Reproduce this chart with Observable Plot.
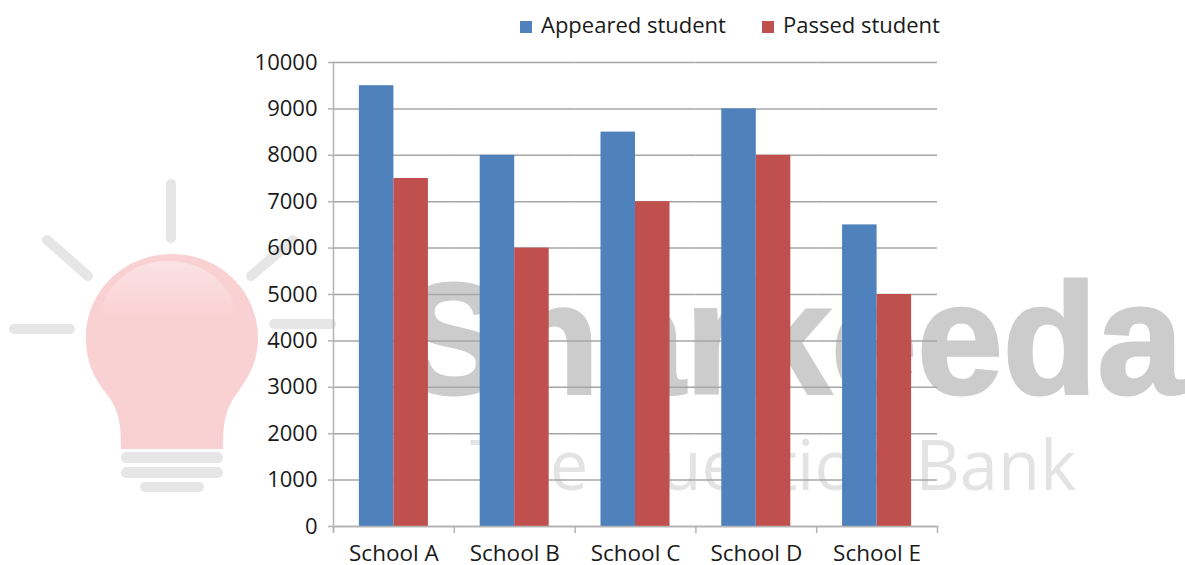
<!DOCTYPE html>
<html>
<head>
<meta charset="utf-8">
<script src="https://cdn.jsdelivr.net/npm/d3@7"></script>
<script src="https://cdn.jsdelivr.net/npm/@observablehq/plot@0.6"></script>
<style>
  html, body { margin: 0; padding: 0; background: #fff; }
  #wrap { position: relative; width: 1185px; height: 565px; overflow: hidden; font-family: "Open Sans", sans-serif; color: #1a1a1a; }
  #mark { position: absolute; left: 0; top: 0; z-index: 0; }
  #chart { position: absolute; left: 0; top: 0; z-index: 1; }
  #legend { position: absolute; left: 0; top: 0; z-index: 2; width: 1185px; height: 50px; }
  .sw { position: absolute; top: 21px; width: 12px; height: 12px; }
  .lb { position: absolute; top: 8px; font-size: 22px; line-height: 32px; white-space: nowrap; }
</style>
</head>
<body>
<div id="wrap">
  <svg id="mark" width="1185" height="565" viewBox="0 0 1185 565">
    <defs>
      <linearGradient id="glow" x1="0" y1="0" x2="0" y2="1">
        <stop offset="0" stop-color="#fbe3e4"/>
        <stop offset="1" stop-color="#fad1d3"/>
      </linearGradient>
    </defs>
    <g stroke="#e6e6e6" stroke-width="10" stroke-linecap="round" fill="none">
      <path d="M171 184V238"/>
      <path d="M47 240L88 276"/>
      <path d="M251 276L293 240"/>
      <path d="M14 329H70"/>
      <path d="M274 324H331"/>
    </g>
    <path fill="#fad1d3" d="M121 449C121 420 118 408 105 392C92 375 86 360 86 338C86 290 125 254 172 254C219 254 258 290 258 338C258 360 250 375 238 392C226 408 223 420 223 449Z"/>
    <path fill="url(#glow)" d="M100 316C104 285 133 261 167 261C205 261 232 285 237 316Z"/>
    <g fill="#e6e6e6">
      <rect x="121" y="452" width="102" height="11" rx="5.5"/>
      <rect x="121" y="467" width="102" height="11" rx="5.5"/>
      <rect x="140" y="482" width="64" height="10" rx="5"/>
    </g>
    <text x="402" y="393" font-family="Liberation Sans" font-weight="700" font-size="158" fill="#cccccc" stroke="#cccccc" stroke-width="3" textLength="781" lengthAdjust="spacingAndGlyphs">Sharkeeda</text>
    <text x="470" y="490" font-family="Open Sans" font-size="70" fill="#e3e3e3" textLength="606" lengthAdjust="spacingAndGlyphs">The Question Bank</text>
  </svg>
  <div id="chart"></div>
  <div id="legend"></div>
</div>
<script>
const schools = ["School A", "School B", "School C", "School D", "School E"];
const seriesNames = ["Appeared student", "Passed student"];
const appeared = [9500, 8000, 8500, 9000, 6500];
const passed = [7500, 6000, 7000, 8000, 5000];
const colors = ["#4f81bd", "#c0504d"];
const yTicks = [0, 1000, 2000, 3000, 4000, 5000, 6000, 7000, 8000, 9000, 10000];
const gray = "#a6a6a6";
const axisGray = "#b3b3b3";
const fontSize = 22.5;

const rows = schools.flatMap((school, i) => [
  {school, series: seriesNames[0], value: appeared[i]},
  {school, series: seriesNames[1], value: passed[i]}
]);

const tickShape = {
  draw(context, l) {
    context.moveTo(0, 0);
    context.lineTo(0, -l);
  }
};

const plot = Plot.plot({
  width: 1185,
  height: 565,
  marginLeft: 333,
  marginRight: 248,
  marginTop: 62,
  marginBottom: 39,
  style: {background: "transparent", fontFamily: "'Open Sans', sans-serif", fontSize: fontSize + "px", color: "#1a1a1a"},
  fx: {domain: schools, padding: 0, round: false, label: null},
  x: {domain: seriesNames, paddingInner: 0, paddingOuter: 0.75, round: false, axis: null},
  y: {domain: [0, 10000], label: null, axis: null},
  color: {domain: seriesNames, range: colors},
  marks: [
    Plot.ruleY(yTicks, {stroke: gray, strokeWidth: 1.5, strokeOpacity: 1}),
    Plot.barY(rows, {fx: "school", x: "series", y: "value", fill: "series"}),
    Plot.vector(schools, {fx: d => d, frameAnchor: "bottom-left", length: 6, rotate: 180, anchor: "start", shape: tickShape, stroke: axisGray, strokeWidth: 1.5}),
    Plot.vector(schools.slice(-1), {fx: d => d, frameAnchor: "bottom-right", length: 6, rotate: 180, anchor: "start", shape: tickShape, stroke: axisGray, strokeWidth: 1.5}),
    Plot.frame({anchor: "left", facet: "super", stroke: axisGray, strokeWidth: 1.5, insetBottom: -5}),
    Plot.frame({anchor: "bottom", facet: "super", stroke: axisGray, strokeWidth: 1.5}),
    Plot.axisY({ticks: yTicks, tickSize: 5, tickPadding: 11, stroke: axisGray, strokeWidth: 1.5, fill: "#1a1a1a", tickFormat: d => String(d), fontSize: 22, label: null}),
    Plot.axisFx({anchor: "bottom", tickSize: 0, tickPadding: 19, fill: "#1a1a1a", fontSize, label: null})
  ]
});
document.getElementById("chart").appendChild(plot);

const legend = document.getElementById("legend");
const legendX = [[520, 541], [762, 783]];
seriesNames.forEach((name, i) => {
  const sw = document.createElement("div");
  sw.className = "sw";
  sw.style.left = legendX[i][0] + "px";
  sw.style.background = colors[i];
  legend.appendChild(sw);
  const lb = document.createElement("div");
  lb.className = "lb";
  lb.style.left = legendX[i][1] + "px";
  lb.textContent = name;
  legend.appendChild(lb);
});
</script>
</body>
</html>
